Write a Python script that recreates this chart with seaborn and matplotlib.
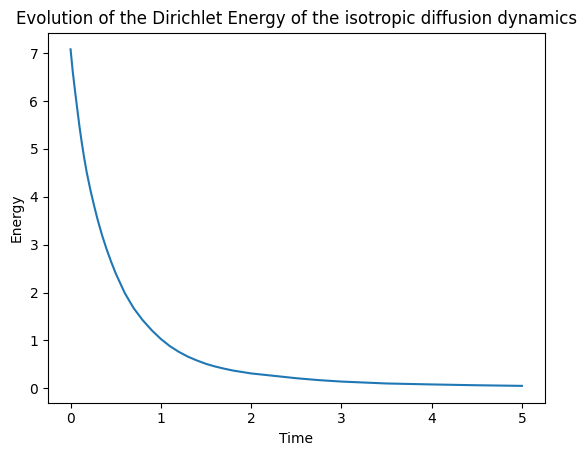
import matplotlib
matplotlib.use("Agg")
import matplotlib.pyplot as plt
import seaborn as sns
import pandas as pd

time = [0.0, 0.025, 0.05, 0.075, 0.1, 0.125, 0.15, 0.18, 0.22, 0.26, 0.3, 0.35,
        0.4, 0.45, 0.5, 0.6, 0.7, 0.8, 0.9, 1.0, 1.1, 1.2, 1.3, 1.4, 1.5, 1.6,
        1.7, 1.8, 1.9, 2.0, 2.25, 2.5, 2.75, 3.0, 3.5, 4.0, 4.5, 5.0]
energy = [7.08, 6.6, 6.2, 5.82, 5.45, 5.12, 4.82, 4.5, 4.14, 3.82, 3.52, 3.19,
          2.9, 2.64, 2.4, 1.99, 1.67, 1.42, 1.21, 1.03, 0.88, 0.76, 0.66, 0.58, 0.51, 0.455,
          0.41, 0.37, 0.34, 0.31, 0.26, 0.21, 0.17, 0.14, 0.10, 0.08, 0.063, 0.05]

df = pd.DataFrame({"Time": time, "Energy": energy})

fig = plt.figure(figsize=(5.86, 4.55), dpi=100)
ax = fig.add_axes([48 / 586, 1 - 402.7 / 455, (544.5 - 48) / 586, (402.7 - 32.5) / 455])
sns.lineplot(data=df, x="Time", y="Energy", ax=ax, color="#1f77b4", linewidth=1.5)
ax.set_title("Evolution of the Dirichlet Energy of the isotropic diffusion dynamics", fontsize=12)
ax.set_xlabel("Time")
ax.set_ylabel("Energy")
fig.savefig("out.png", dpi=100)
